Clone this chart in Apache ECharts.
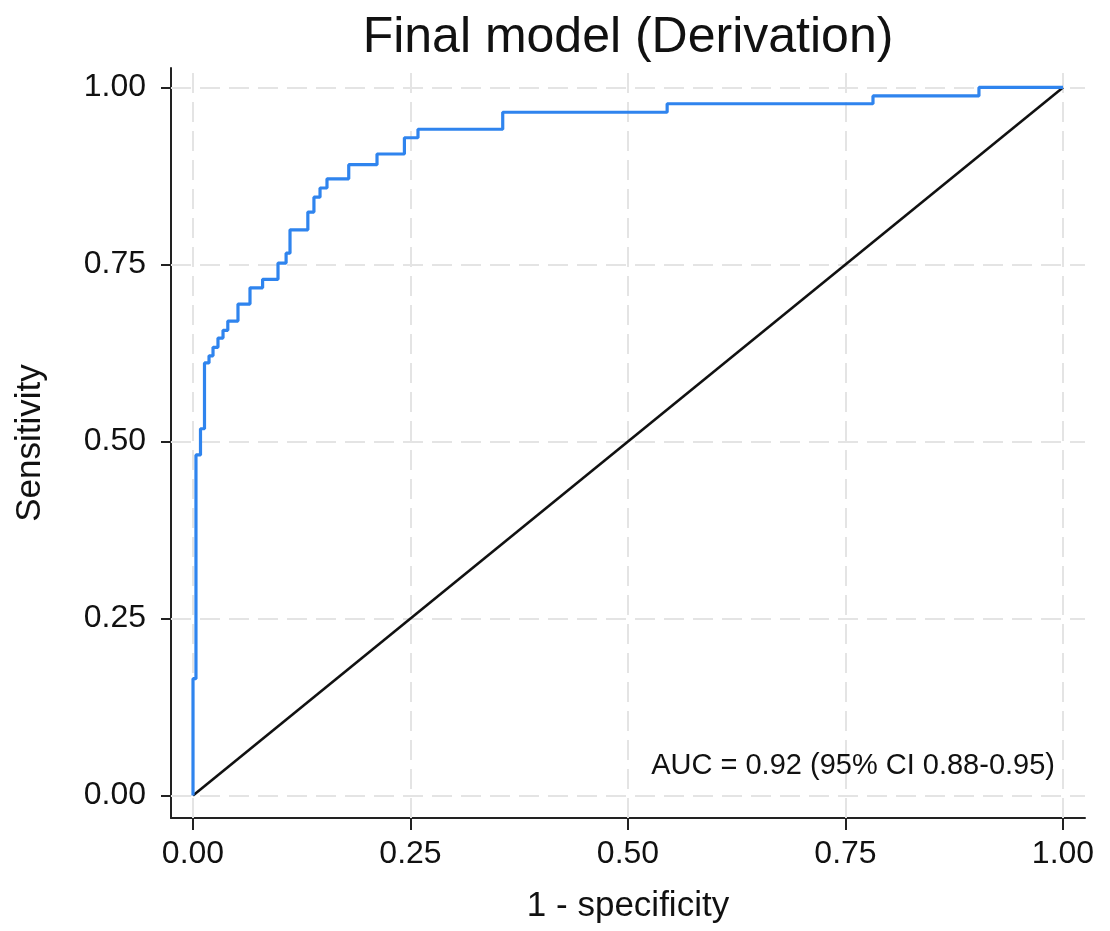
<!DOCTYPE html>
<html><head><meta charset="utf-8">
<script src="https://cdn.jsdelivr.net/npm/echarts@6/dist/echarts.min.js"></script>
<style>html,body{margin:0;padding:0;background:#fff}#c{width:1110px;height:931px}</style>
</head><body><div id="c"></div>
<script>
const chartTitle = 'Final model (Derivation)';
const xName = '1 - specificity';
const yName = 'Sensitivity';
const xTicks = [0, 0.25, 0.5, 0.75, 1];
const yTicks = [0, 0.25, 0.5, 0.75, 1];
// ROC points (1 - specificity, sensitivity), drawn as a staircase
const fpr = [0, 0, 0.0034, 0.0086, 0.0132, 0.0184, 0.023, 0.0287, 0.0345, 0.040, 0.0517, 0.0655, 0.080, 0.0977, 0.107, 0.1115, 0.132, 0.139, 0.146, 0.154, 0.179, 0.2115, 0.243, 0.2586, 0.356, 0.545, 0.7816, 0.9034, 1];
const tpr = [0, 0.165, 0.481, 0.518, 0.611, 0.621, 0.633, 0.646, 0.657, 0.670, 0.694, 0.717, 0.729, 0.752, 0.766, 0.799, 0.824, 0.845, 0.858, 0.871, 0.891, 0.906, 0.929, 0.941, 0.965, 0.977, 0.988, 1.0, 1.0];
const refX = [0, 1];
const refY = [0, 1];
const aucText = 'AUC = 0.92 (95% CI 0.88-0.95)';

const FONT = '"Liberation Sans", Arial, Helvetica, sans-serif';
const chart = echarts.init(document.getElementById('c'), null, {renderer: 'canvas'});
const rocData = fpr.map((x, i) => [x, tpr[i]]);
const refData = refX.map((x, i) => [x, refY[i]]);
const gridLineStyle = {color: '#e4e4e4', width: 2, type: [20, 9]};
const gridMarks = xTicks.map(v => ({xAxis: v})).concat(yTicks.map(v => ({yAxis: v})));

chart.setOption({
  animation: false,
  backgroundColor: '#fff',
  grid: {left: 171, right: 25, top: 68, bottom: 113, containLabel: false},
  xAxis: {
    type: 'value', min: -0.0253, max: 1.0253,
    name: xName, nameLocation: 'middle', nameGap: 71,
    nameTextStyle: {fontFamily: FONT, fontSize: 35, color: '#111'},
    axisLine: {show: true, onZero: false, lineStyle: {color: '#222', width: 2}},
    axisTick: {show: true, length: 12, customValues: xTicks, lineStyle: {color: '#222', width: 2}},
    axisLabel: {customValues: xTicks, margin: 20, fontFamily: FONT, fontSize: 32, color: '#111',
      formatter: v => v.toFixed(2)},
    splitLine: {show: false}
  },
  yAxis: {
    type: 'value', min: -0.0318, max: 1.0275,
    name: yName, nameLocation: 'middle', nameGap: 123, nameRotate: 90,
    nameTextStyle: {fontFamily: FONT, fontSize: 35, color: '#111'},
    axisLine: {show: true, onZero: false, lineStyle: {color: '#222', width: 2}},
    axisTick: {show: true, length: 10, customValues: yTicks, lineStyle: {color: '#222', width: 2}},
    axisLabel: {customValues: yTicks, margin: 25, fontFamily: FONT, fontSize: 32, color: '#111',
      formatter: v => v.toFixed(2)},
    splitLine: {show: false}
  },
  series: [
    {
      type: 'line', data: [], silent: true, z: 1, zlevel: 0,
      markLine: {silent: true, symbol: 'none', label: {show: false}, lineStyle: gridLineStyle,
        animation: false, data: gridMarks}
    },
    {
      type: 'line', data: refData, showSymbol: false, z: 3, zlevel: 1,
      lineStyle: {color: '#111', width: 2.6}
    },
    {
      type: 'line', data: rocData, step: 'end', showSymbol: false, z: 4, zlevel: 1,
      lineStyle: {color: '#2f84ee', width: 3.2}
    }
  ],
  graphic: [
    {type: 'text', x: 628, y: 38, z: 10, zlevel: 1,
      style: {text: chartTitle, font: '50px ' + FONT, fill: '#111', textAlign: 'center', textVerticalAlign: 'middle'}},
    {type: 'text', x: 1055, y: 766, z: 10, zlevel: 1,
      style: {text: aucText, font: '29px ' + FONT, fill: '#111', textAlign: 'right', textVerticalAlign: 'middle'}}
  ]
});
</script></body></html>
